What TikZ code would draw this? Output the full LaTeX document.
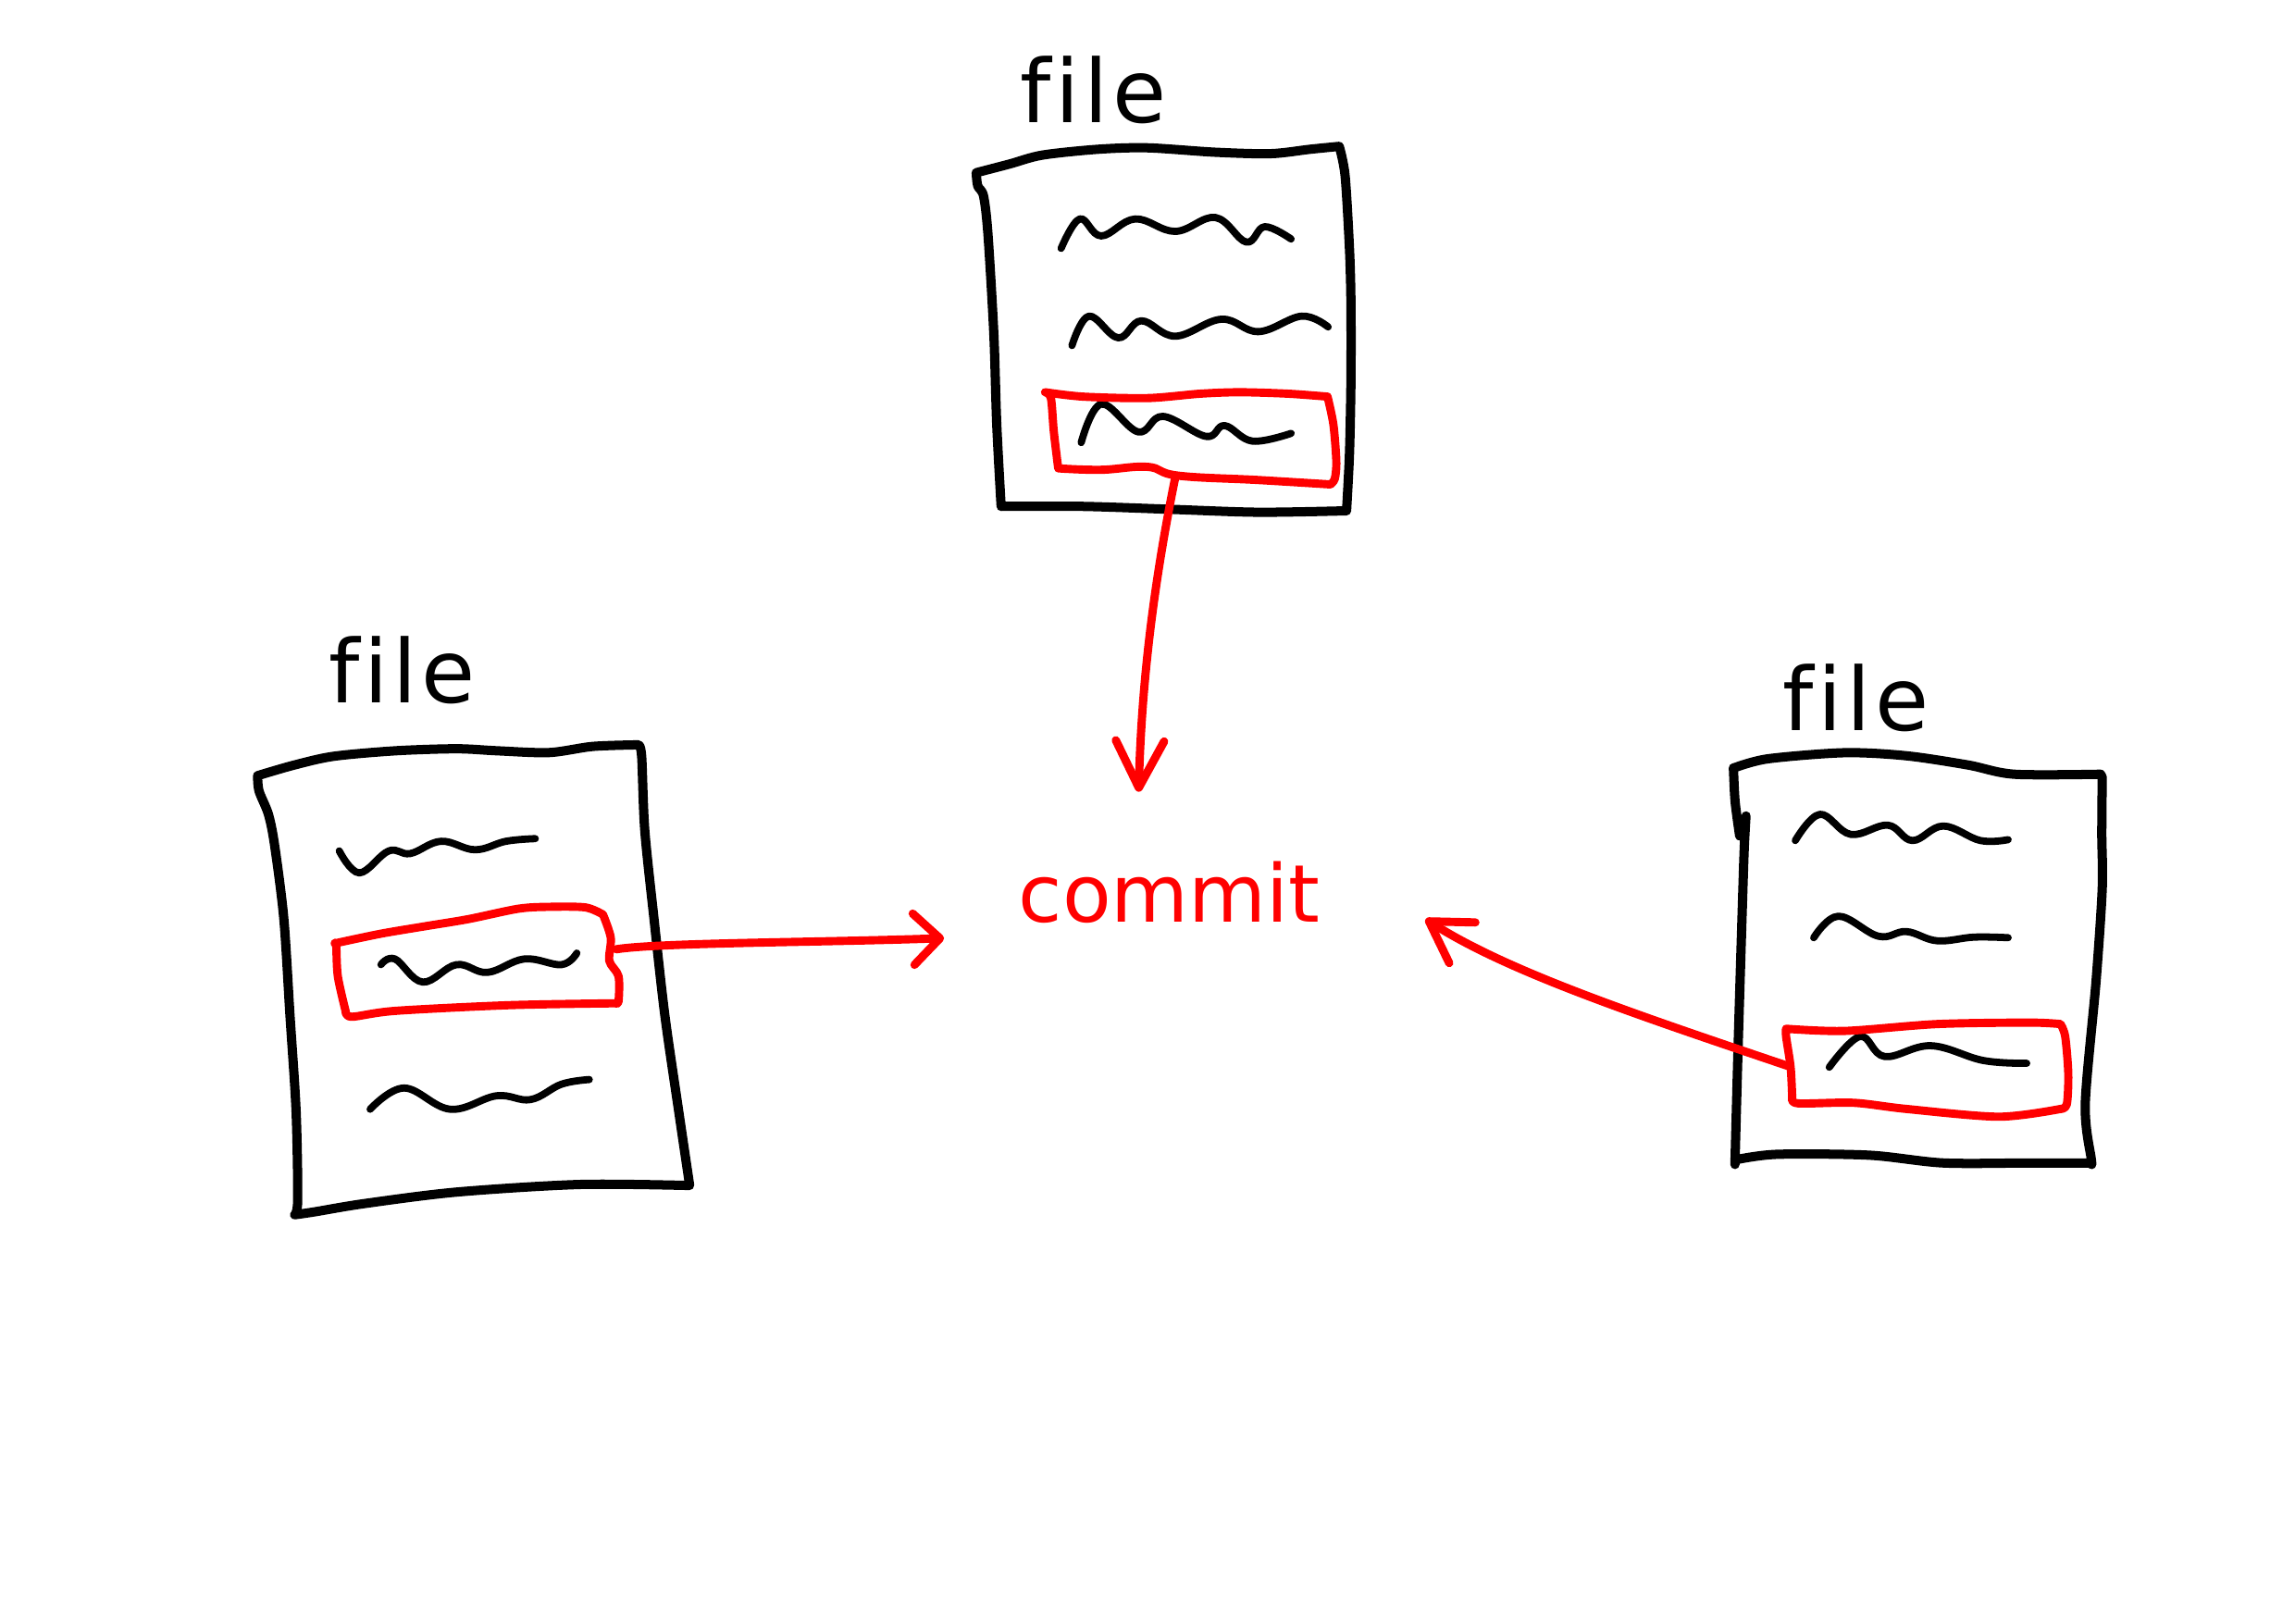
\documentclass[tikz,border=0pt]{standalone}
\usepackage{fontspec}
\setmainfont{DejaVu Sans}[Ligatures=NoCommon]
\newfontfamily\handlbl{DejaVu Sans}[Ligatures=NoCommon, LetterSpace=5]
\usetikzlibrary{arrows.meta}
\definecolor{pen}{RGB}{255,0,0}
\tikzset{
  sheet/.style={draw=black, line width=1.8pt, line cap=round, line join=round},
  scribble/.style={draw=black, line width=1.4pt, line cap=round, line join=round},
  mark box/.style={draw=pen, line width=1.6pt, line cap=round, line join=round},
  pull/.style={draw=pen, line width=1.6pt, line cap=round, line join=round},
  lbl/.style={anchor=base, inner sep=0pt, font=\handlbl\fontsize{17}{20}\selectfont, text=black},
  cmt/.style={anchor=base, inner sep=0pt, font=\fontsize{15.5}{18}\selectfont, text=pen},
  wave/.style={smooth, tension=.65}
}
\begin{document}
\begin{tikzpicture}[x=0.01cm,y=-0.01cm]
\fill[white] (0,0) rectangle (1568,1109);
\useasboundingbox (0,0) rectangle (1568,1109);

% ---------- top file ----------
\node[lbl] (ftop) at (747,84) {file};
\draw[sheet] plot[smooth,tension=.5] coordinates {(667,118) (690,112) (712,106) (750,102) (784,101) (830,104) (868,105) (895,102) (915,100)}
  -- plot[smooth,tension=.5] coordinates {(915,100) (919,120) (922,170) (923,207) (923,260) (922,310) (920,349)}
  -- plot[smooth,tension=.5] coordinates {(920,349) (860,350) (800,348) (740,346) (684,346)}
  -- plot[smooth,tension=.5] coordinates {(684,346) (681,290) (679,228) (675,160) (672,134) (668,127) (667,118)} -- cycle;
\draw[scribble] plot[wave] coordinates {(725,169.7) (737.7,149.6) (752.4,161.2) (775.6,149.6) (803,158.1) (830.4,148.6) (851.5,165.4) (864.1,154.9) (882.1,163.3)};
\draw[scribble] plot[wave] coordinates {(732.4,236.1) (744,216) (764,230.8) (779.8,219.2) (803,229.7) (834.6,218.1) (859.9,226.6) (889.4,216) (907.4,223.4)};
\draw[scribble] plot[wave] coordinates {(738.7,302.4) (752.4,276.1) (777.7,295.1) (794.6,284.5) (824.1,298.2) (836.7,290.8) (855.7,301.4) (882.1,296.1)};
\draw[mark box] plot[smooth,tension=.5] coordinates {(714,268) (740,271) (784,272) (820,269) (847,268) (880,269) (907,271)}
  -- plot[smooth,tension=.5] coordinates {(907,271) (911,290) (913,315) (912,327) (909,331)}
  -- plot[smooth,tension=.7] coordinates {(909,331) (860,328) (805,325) (784,319) (752,321) (723,320)}
  -- plot[smooth,tension=.5] coordinates {(723,320) (720,295) (718,272) (714,268)} -- cycle;

% ---------- left file ----------
\node[lbl] (fleft) at (275,480) {file};
\draw[sheet] plot[smooth,tension=.5] coordinates {(176,530) (200,523) (227.6,516.8) (270,513) (311.9,511.6) (340,513) (375.2,514.2) (405,510) (436.3,508.9)}
  -- plot[smooth,tension=.5] coordinates {(436.3,508.9) (438.4,516.8) (440.5,566.9) (446.8,627.5) (454.2,693.4) (463.7,759.2) (471.1,809.3)}
  -- plot[smooth,tension=.5] coordinates {(471.1,810) (396.2,809.3) (311.9,814.5) (248.7,822.4) (215,828) (201.3,830)}
  -- plot[smooth,tension=.5] coordinates {(201.3,830) (203.4,819.8) (202.3,759.2) (198.1,693.4) (193.9,627.5) (187.6,577.4) (183.4,556.4) (177,540.5) (176,530)} -- cycle;
\draw[scribble] plot[wave] coordinates {(231.8,581.4) (245.5,596.4) (265.6,581.4) (280.3,583.2) (301.4,574.8) (324.6,580.6) (345.7,574.8) (365.7,573)};
\draw[scribble] plot[wave] coordinates {(260.3,659.1) (269.8,655.2) (288.8,671) (311.9,659.1) (333,664.4) (358.3,655.2) (383.6,659.1) (394.1,651.2)};
\draw[scribble] plot[wave] coordinates {(252.9,757.9) (276.1,743.4) (307.7,757.9) (339.3,748.7) (362.5,751.3) (383.6,740.8) (402.6,737.6)};
\draw[mark box] plot[smooth,tension=.5] coordinates {(228.7,644.6) (260,638) (290.9,632.8) (320,628) (354.1,620.9) (375.2,619.6) (400,620) (412,624.9)}
  -- plot[smooth,tension=.5] coordinates {(412,624.9) (417.3,640.7) (416.3,656.5) (422.6,667) (422.6,684.1) (420.5,685.5)}
  -- plot[smooth,tension=.5] coordinates {(420.5,685.5) (347.8,686.8) (269.8,690.7) (240.3,694.7) (236.1,690.7)}
  -- plot[smooth,tension=.5] coordinates {(236.1,690.7) (230.8,667) (229.7,645.9) (228.7,644.6)} -- cycle;

% ---------- right file ----------
\node[lbl] (fright) at (1268,499) {file};
\draw[sheet] plot[smooth,tension=.5] coordinates {(1188.6,571.2) (1185.5,548) (1184.4,526.9) (1184.4,524.8)}
  -- plot[smooth,tension=.5] coordinates {(1184.4,524.8) (1207.6,518.5) (1260.3,514.3) (1302.5,516.4) (1344.6,522.7) (1376.2,529) (1435.2,529)}
  -- plot[smooth,tension=.5] coordinates {(1436.3,531) (1436,570) (1436.3,607) (1432.1,670.2) (1424.7,754.5) (1428.9,792.5) (1428.9,794.6)}
  -- plot[smooth,tension=.5] coordinates {(1428.9,794.6) (1386.8,794.6) (1327.7,794.6) (1277.2,789.3) (1213.9,788.7) (1185.5,792.5)}
  -- plot[smooth,tension=.5] coordinates {(1185.5,792.5) (1185.5,790.4) (1187.6,712.4) (1190.8,607) (1191.8,577.5) (1192.9,557.5)};
\draw[scribble] plot[wave] coordinates {(1226.6,574.3) (1243.4,556.4) (1264.5,570.1) (1289.8,563.8) (1306.7,574.3) (1327.7,564.4) (1353,574.3) (1372,573.7)};
\draw[scribble] plot[wave] coordinates {(1239.2,640.7) (1256.1,626) (1283.5,639.7) (1302.5,636.5) (1323.5,642.8) (1348.8,640.3) (1372,640.7)};
\draw[scribble] plot[wave] coordinates {(1249.8,729.2) (1270.8,708.2) (1287.7,721.9) (1319.3,714.5) (1355.1,724.6) (1384.7,726.5)};
\draw[mark box] plot[smooth,tension=.5] coordinates {(1220.3,702.9) (1260.3,704.4) (1323.5,699.7) (1386.8,698.7) (1407.8,699.7)}
  -- plot[smooth,tension=.5] coordinates {(1407.8,699.7) (1411,708.2) (1413.1,733.5) (1412.1,754.5) (1407.8,757.7)}
  -- plot[smooth,tension=.5] coordinates {(1407.8,757.7) (1365.7,763) (1302.5,757.7) (1266.6,753.5) (1228.7,753.9) (1224.5,750.3)}
  -- plot[smooth,tension=.5] coordinates {(1224.5,750.3) (1223.4,729.2) (1220.3,708.2) (1220.3,702.9)} -- cycle;

% ---------- commit ----------
\node[cmt] (commit) at (799,630) {commit};

% ---------- connectors ----------
\coordinate (selT) at (803,326);
\coordinate (tipT) at (778,541);
\coordinate (selL) at (421,648.6);
\coordinate (tipL) at (645,641);
\coordinate (selR) at (1222,728.5);
\coordinate (tipR) at (974,628);
\draw[pull,-{Straight Barb[length=3.2mm,width=3.3mm,round]}] (selT) .. controls (790,390) and (780,460) .. (tipT);
\draw[pull,-{Straight Barb[length=1.8mm,width=3.5mm,round]}] (selL) .. controls (450,644) and (560,644) .. (tipL);
\draw[pull,-{Straight Barb[length=2.7mm,width=3.3mm,round]}] (selR) .. controls (1120,694) and (1030,664) .. (tipR);
\end{tikzpicture}
\end{document}
